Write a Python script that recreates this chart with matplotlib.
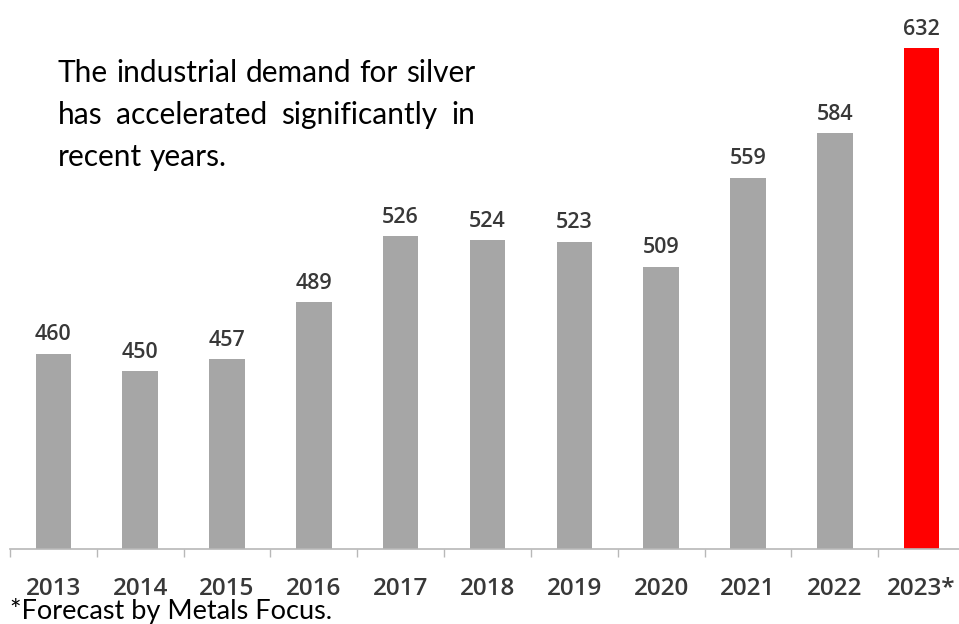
import matplotlib
matplotlib.use("Agg")
import matplotlib.pyplot as plt

years = ["2013", "2014", "2015", "2016", "2017", "2018", "2019", "2020", "2021", "2022", "2023*"]
demand = [460, 450, 457, 489, 526, 524, 523, 509, 559, 584, 632]
bar_colors = ["#a6a6a6"] * 10 + ["#ff0000"]
note_lines = [
    "The industrial demand for silver",
    "has accelerated significantly in",
    "recent years.",
]
footnote = "*Forecast by Metals Focus."

W, H, DPI = 959, 624, 100
NUM_FONT = "Open Sans"
TEXT_FONT = "Lato"
AXIS_GREY = "#b8b8b8"
LABEL_GREY = "#383838"


def text_width(fig, renderer, s, **kw):
    t = fig.text(0, 0, s, transform=None, **kw)
    w = t.get_window_extent(renderer).width
    t.remove()
    return w


def justified_line(fig, renderer, words, left, right, y, justify, **kw):
    # place each word on its own so the line fills [left, right] in pixels
    widths = [text_width(fig, renderer, w, **kw) for w in words]
    gap = text_width(fig, renderer, "a a", **kw) - text_width(fig, renderer, "aa", **kw)
    if justify and len(words) > 1:
        gap = (right - left - sum(widths)) / (len(words) - 1)
    xpos = left
    for w, wid in zip(words, widths):
        fig.text(xpos, y, w, transform=None, va="baseline", **kw)
        xpos += wid + gap


def main():
    fig = plt.figure(figsize=(W / DPI, H / DPI), dpi=DPI)
    ax = fig.add_axes([10 / W, 75 / H, 955 / W, 549 / H])

    xs = list(range(len(years)))
    ax.bar(xs, demand, width=0.41, color=bar_colors)
    ax.set_xlim(-0.5, len(years) - 0.5)
    ax.set_ylim(350, 659)

    for side in ["top", "right", "left"]:
        ax.spines[side].set_visible(False)
    ax.spines["bottom"].set_color(AXIS_GREY)
    ax.spines["bottom"].set_linewidth(1.2)
    ax.set_yticks([])

    ax.set_xticks(xs, years)
    ax.set_xticks([x - 0.5 for x in xs], minor=True)
    ax.tick_params(axis="x", which="major", length=0, pad=33, labelsize=17.5,
                   labelcolor=LABEL_GREY)
    ax.tick_params(axis="x", which="minor", length=6, width=1, color=AXIS_GREY,
                   direction="out")
    for lbl in ax.get_xticklabels():
        lbl.set_fontfamily(NUM_FONT)
        lbl.set_fontweight("semibold")
        lbl.set_va("baseline")

    for x, v in zip(xs, demand):
        ax.annotate(str(v), (x, v), xytext=(0, 9.5), textcoords="offset points",
                    ha="center", va="baseline", fontsize=15.5, color=LABEL_GREY,
                    family=NUM_FONT, fontweight="semibold")

    renderer = fig.canvas.get_renderer()
    # pick the size at which the first line spans the text box naturally
    size = 20.0
    natural = text_width(fig, renderer, note_lines[0], fontsize=size, family=TEXT_FONT)
    size = size * 417 / natural
    baselines = [82, 124, 166]
    for i, (line, yb) in enumerate(zip(note_lines, baselines)):
        justified_line(fig, renderer, line.split(), 58, 475, H - yb,
                       justify=i < len(note_lines) - 1,
                       fontsize=size, family=TEXT_FONT, color="black")

    fig.text(10 / W, 5.5 / H, footnote, va="baseline", ha="left", fontsize=19.5,
             family=TEXT_FONT, color="black")

    fig.savefig("out.png", dpi=DPI)
    plt.close(fig)


if __name__ == "__main__":
    main()
